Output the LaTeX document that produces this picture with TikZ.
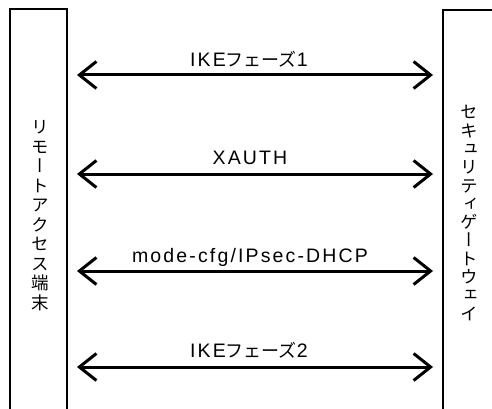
\documentclass[tikz,border=0pt]{standalone}
\usepackage{fontspec}
\setmainfont{Liberation Sans}[LetterSpace=11]
\newfontfamily\jp{Noto Sans CJK JP}
\newfontfamily\vjp[RawFeature=+vert]{Noto Sans CJK JP}
\usetikzlibrary{arrows.meta}
\tikzset{
  box/.style={line width=1.5pt},
  msg/.style={line width=3pt,{Straight Barb[length=17pt,width=27pt,line width=3pt]}-{Straight Barb[length=17pt,width=27pt,line width=3pt]}},
  lbl/.style={font=\fontsize{19.5pt}{21pt}\selectfont,anchor=base,inner sep=0pt},
  vtext/.style={align=center,inner sep=0pt}
}
\begin{document}
\begin{tikzpicture}[x=1pt,y=-1pt]
\useasboundingbox (0,0) rectangle (492,409);
% remote access terminal (left lane)
\draw[box] (10,410) -- (10,9) -- (67,9) -- (67,410);
\node[vtext,font=\vjp\fontsize{17.5pt}{19.5pt}\selectfont] (term) at (40,215.5) {リ\\モ\\ー\\ト\\ア\\ク\\セ\\ス\\端\\末};
% security gateway (right lane)
\draw[box] (443,410) -- (443,10) -- (493,10);
\node[vtext,font=\vjp\fontsize{17.5pt}{18.3pt}\selectfont] (gw) at (469,213) {セ\\キ\\ュ\\リ\\テ\\ィ\\ゲ\\ー\\ト\\ウ\\ェ\\イ};
% arrow end points
\coordinate (l1) at (77,75);  \coordinate (r1) at (433,75);
\coordinate (l2) at (77,174); \coordinate (r2) at (433,174);
\coordinate (l3) at (77,271); \coordinate (r3) at (433,271);
\coordinate (l4) at (77,367); \coordinate (r4) at (433,367);
% exchanges
\draw[msg] (l1) -- (r1);
\draw[msg] (l2) -- (r2);
\draw[msg] (l3) -- (r3);
\draw[msg] (l4) -- (r4);
\node[lbl] (m1) at (249,67)  {IKE{\jp\fontsize{18pt}{21pt}\selectfont フェーズ}1};
\node[lbl] (m2) at (250,164) {XAUTH};
\node[lbl] (m3) at (250,262) {mode-cfg/IPsec-DHCP};
\node[lbl] (m4) at (249,357) {IKE{\jp\fontsize{18pt}{21pt}\selectfont フェーズ}2};
\end{tikzpicture}
\end{document}
